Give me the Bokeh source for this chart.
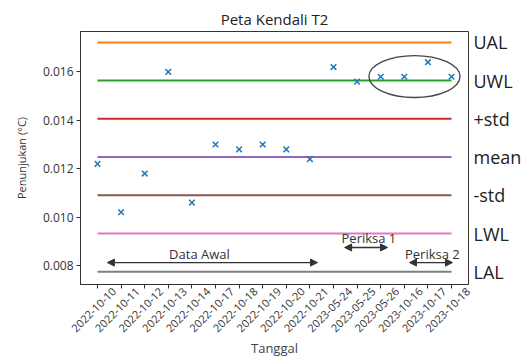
import math
from bokeh.plotting import figure
from bokeh.models import (Range1d, FixedTicker, LinearAxis, Label, Arrow, NormalHead,
                          PrintfTickFormatter)
from bokeh.embed import file_html
from bokeh.resources import INLINE

# ---- data ----
dates = ["2022-10-10", "2022-10-11", "2022-10-12", "2022-10-13", "2022-10-14",
         "2022-10-17", "2022-10-18", "2022-10-19", "2022-10-20", "2022-10-21",
         "2023-05-24", "2023-05-25", "2023-05-26", "2023-10-16", "2023-10-17",
         "2023-10-18"]
readings = [0.0122, 0.0102, 0.0118, 0.0160, 0.0106, 0.0130, 0.0128, 0.0130,
            0.0128, 0.0124, 0.0162, 0.0156, 0.0158, 0.0158, 0.0164, 0.0158]
limit_names = ["UAL", "UWL", "+std", "mean", "-std", "LWL", "LAL"]
limit_values = [0.01722, 0.01564, 0.01406, 0.01248, 0.01090, 0.00932, 0.00774]
limit_colors = ["#ff7f0e", "#2ca02c", "#d62728", "#9467bd", "#8c564b", "#e377c2", "#7f7f7f"]
y_ticks = [0.008, 0.010, 0.012, 0.014, 0.016]

groups = ["Data Awal", "Periksa 1", "Periksa 2"]
group_start = [0, 10, 13]
group_end = [9, 12, 15]

FONT = "Open Sans"
TXT = "#333333"

idx = list(range(len(dates)))
n = len(dates)
X0, X1 = -0.72, n - 1 + 0.72
LAB_SHIFT = 0.7   # rotated date labels are centred under their ticks

p = figure(width=532, height=361,
           x_range=Range1d(X0, X1),
           y_range=Range1d(0.007215, 0.01767),
           output_backend="svg", toolbar_location=None,
           min_border_left=80, min_border_right=64,
           min_border_top=31, min_border_bottom=77,
           title="Peta Kendali T2")
p.extra_x_ranges = {"lab": Range1d(X0 - LAB_SHIFT, X1 - LAB_SHIFT)}
p.background_fill_color = "white"
p.border_fill_color = "white"
p.outline_line_color = "#333333"
p.outline_line_width = 1
p.grid.visible = False

p.title.align = "center"
p.title.text_font = FONT
p.title.text_font_size = "15px"
p.title.text_font_style = "normal"
p.title.text_color = "#222222"
p.title.standoff = 6

# y axis
p.yaxis.ticker = FixedTicker(ticks=y_ticks)
p.yaxis.formatter = PrintfTickFormatter(format="%.3f")
p.yaxis.major_label_text_font = FONT
p.yaxis.major_label_text_font_size = "12px"
p.yaxis.major_label_text_color = TXT
p.yaxis.major_tick_out = 4
p.yaxis.major_tick_in = 0
p.yaxis.minor_tick_out = 0
p.yaxis.minor_tick_in = 0
p.yaxis.major_label_standoff = 3
p.yaxis.axis_label = "Penunjukan (°C)"
p.yaxis.axis_label_text_font = FONT
p.yaxis.axis_label_text_font_size = "11px"
p.yaxis.axis_label_text_font_style = "normal"
p.yaxis.axis_label_text_color = TXT
p.yaxis.axis_label_standoff = 11
p.yaxis.axis_line_color = "#333333"
p.yaxis.major_tick_line_color = "#333333"

# x axis: tick marks only
p.xaxis.ticker = FixedTicker(ticks=idx)
p.xaxis.major_label_text_color = None
p.xaxis.major_label_text_font_size = "1px"
p.xaxis.major_tick_out = 4
p.xaxis.major_tick_in = 0
p.xaxis.minor_tick_out = 0
p.xaxis.minor_tick_in = 0
p.xaxis.major_label_standoff = 0
p.xaxis.axis_line_color = "#333333"
p.xaxis.major_tick_line_color = "#333333"

# second bottom axis carrying the rotated date labels
lab = LinearAxis(x_range_name="lab", ticker=FixedTicker(ticks=idx),
                 major_label_overrides={i: d for i, d in zip(idx, dates)})
lab.axis_line_color = None
lab.major_tick_line_color = None
lab.minor_tick_line_color = None
lab.major_tick_out = 0
lab.major_tick_in = 0
lab.minor_tick_out = 0
lab.minor_tick_in = 0
lab.major_label_standoff = 1
lab.major_label_orientation = math.pi / 4
lab.major_label_text_font = FONT
lab.major_label_text_font_size = "11px"
lab.major_label_text_color = TXT
lab.axis_label = "Tanggal"
lab.axis_label_text_font = FONT
lab.axis_label_text_font_size = "13px"
lab.axis_label_text_font_style = "normal"
lab.axis_label_text_color = "#3a4250"
lab.axis_label_standoff = 0
p.add_layout(lab, "below")

# right axis with limit names
ra = LinearAxis(ticker=FixedTicker(ticks=limit_values),
                major_label_overrides={v: s for v, s in zip(limit_values, limit_names)})
ra.axis_line_color = None
ra.major_tick_line_color = None
ra.minor_tick_line_color = None
ra.major_tick_out = 0
ra.major_tick_in = 0
ra.minor_tick_out = 0
ra.major_label_standoff = 5
ra.major_label_text_font = FONT
ra.major_label_text_font_size = "18px"
ra.major_label_text_color = "#222222"
p.add_layout(ra, "right")

# control limit lines
for v, c in zip(limit_values, limit_colors):
    p.segment(x0=0, x1=n - 1, y0=v, y1=v, line_color=c, line_width=2)

# readings
p.scatter(idx, readings, marker="x", size=8, line_color="#1f77b4", line_width=1.5)

# group arrows and labels
arrow_y = [0.00812, 0.008744, 0.00812]
text_y = [0.008455, 0.009116, 0.008496]
x_pad = [(0.42, 0.32), (0.47, 0.29), (0.22, 0.04)]
text_dx = [-0.18, 0.5, 0.19]
for g, s, e, ay, ty, (pa, pb), dx in zip(groups, group_start, group_end, arrow_y, text_y, x_pad, text_dx):
    p.add_layout(Arrow(x_start=s + pa, x_end=e + pb, y_start=ay, y_end=ay,
                       line_color="#333333", line_width=1.3,
                       start=NormalHead(size=7, fill_color="#333333", line_color="#333333"),
                       end=NormalHead(size=7, fill_color="#333333", line_color="#333333")))
    p.add_layout(Label(x=(s + e) / 2 + dx, y=ty, text=g, text_align="center",
                       text_baseline="middle", text_font=FONT, text_font_size="13px",
                       text_color=TXT))

# highlight ellipse around last readings
p.ellipse(x=13.43, y=0.01581, width=3.86, height=0.001736,
          fill_color=None, line_color="#444444", line_width=1.3)

open("out.html", "w").write(file_html(p, INLINE))
